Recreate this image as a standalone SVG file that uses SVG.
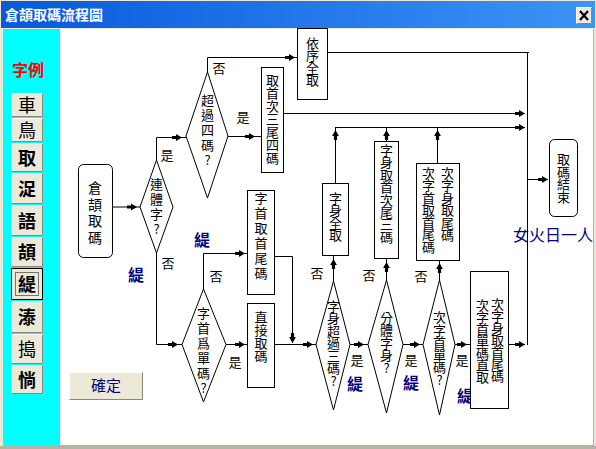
<svg xmlns="http://www.w3.org/2000/svg" width="596" height="449" viewBox="0 0 596 449">
<defs>
<linearGradient id="tb" x1="0" y1="0" x2="1" y2="0">
<stop offset="0" stop-color="#0a58dc"/>
<stop offset="1" stop-color="#3d93f7"/>
</linearGradient>
<marker id="ah" markerUnits="userSpaceOnUse" markerWidth="12" markerHeight="10" viewBox="-11 -5 12 10" refX="0" refY="0" orient="auto">
<path d="M-10,-1.6 H-6 V-3.4 L0,0 L-6,3.4 V1.6 H-10 Z" fill="#000"/>
</marker>
<style>
.t{font-family:"Noto Sans CJK TC","Noto Sans CJK SC",sans-serif;font-size:13px;text-anchor:middle;fill:#000}
.v{font-family:"Noto Sans CJK TC","Noto Sans CJK SC",sans-serif;font-size:13px;fill:#000;writing-mode:vertical-rl;text-orientation:upright;text-anchor:start}
.k{font-family:"Noto Sans CJK TC","Noto Sans CJK SC",sans-serif;font-size:16px;font-weight:bold;text-anchor:middle;fill:#000080}
.b{font-family:"Noto Sans CJK TC","Noto Sans CJK SC",sans-serif;font-size:18px;text-anchor:middle;fill:#000}
.bb{font-weight:bold}
.box{fill:#fff;stroke:#000;stroke-width:1}
.c{fill:none;stroke:#000;stroke-width:1}
.a{marker-end:url(#ah)}
.btn{fill:#ece9d8}
.hl{fill:none;stroke:#fff;stroke-width:1}
.sh{fill:none;stroke:#8a877a;stroke-width:1}
</style>
</defs>

<!-- window frame -->
<rect x="0" y="0" width="596" height="449" fill="#ece9d8"/>
<rect x="1" y="1" width="594" height="27" fill="url(#tb)"/>
<text x="5" y="20" style="font-family:'Noto Sans CJK TC','Noto Sans CJK SC',sans-serif;font-size:14px;font-weight:bold;fill:#fff">倉頡取碼流程圖</text>
<g id="close">
<rect x="576" y="7" width="16" height="17" fill="#ece9d8"/>
<path d="M576.5,23.5 V7.5 H591.5" class="hl"/>
<path d="M576.5,23.5 H591.5 V7.5" class="sh"/>
<path d="M580,11 L588,20 M588,11 L580,20" stroke="#000" stroke-width="2.2"/>
</g>
<rect x="3" y="29" width="591" height="417" fill="#00ffff"/>
<rect x="60" y="29" width="533" height="416" fill="#fff"/>
<rect x="0" y="446" width="596" height="3" fill="#b5b2a6"/>

<!-- left panel -->
<g id="legend">
<text x="28" y="76" style="font-family:'Noto Sans CJK TC','Noto Sans CJK SC',sans-serif;font-size:16px;font-weight:bold;fill:#ff0000;text-anchor:middle">字例</text>
</g>
<g id="btn-1"><rect x="11" y="93" width="32" height="24" class="btn"/><path d="M11.5,116.5 V93.5 H42.5" class="hl"/><path d="M11.5,116.5 H42.5 V93.5" class="sh"/><text x="27" y="112" class="b">車</text></g>
<g id="btn-2"><rect x="11" y="118" width="32" height="24" class="btn"/><path d="M11.5,141.5 V118.5 H42.5" class="hl"/><path d="M11.5,141.5 H42.5 V118.5" class="sh"/><text x="27" y="137" class="b">鳥</text></g>
<g id="btn-3"><rect x="11" y="143" width="32" height="29" class="btn"/><path d="M11.5,171.5 V143.5 H42.5" class="hl"/><path d="M11.5,171.5 H42.5 V143.5" class="sh"/><text x="27" y="165" class="b bb">取</text></g>
<g id="btn-4"><rect x="11" y="173" width="32" height="31" class="btn"/><path d="M11.5,203.5 V173.5 H42.5" class="hl"/><path d="M11.5,203.5 H42.5 V173.5" class="sh"/><text x="27" y="196" class="b bb">浞</text></g>
<g id="btn-5"><rect x="11" y="205" width="32" height="31" class="btn"/><path d="M11.5,235.5 V205.5 H42.5" class="hl"/><path d="M11.5,235.5 H42.5 V205.5" class="sh"/><text x="27" y="228" class="b bb">語</text></g>
<g id="btn-6"><rect x="11" y="237" width="32" height="30" class="btn"/><path d="M11.5,266.5 V237.5 H42.5" class="hl"/><path d="M11.5,266.5 H42.5 V237.5" class="sh"/><text x="27" y="259" class="b bb">頡</text></g>
<g id="btn-7"><rect x="11" y="268" width="32" height="32" class="btn"/><rect x="11.5" y="268.5" width="31" height="31" fill="none" stroke="#000"/><rect x="15.5" y="272.5" width="23" height="23" fill="none" stroke="#000" stroke-dasharray="1,1"/><text x="27" y="291" class="b bb">緹</text></g>
<g id="btn-8"><rect x="11" y="301" width="32" height="32" class="btn"/><path d="M11.5,332.5 V301.5 H42.5" class="hl"/><path d="M11.5,332.5 H42.5 V301.5" class="sh"/><text x="27" y="324" class="b bb">溙</text></g>
<g id="btn-9"><rect x="11" y="334" width="32" height="30" class="btn"/><path d="M11.5,363.5 V334.5 H42.5" class="hl"/><path d="M11.5,363.5 H42.5 V334.5" class="sh"/><text x="27" y="356" class="b">搗</text></g>
<g id="btn-10"><rect x="11" y="365" width="32" height="29" class="btn"/><path d="M11.5,393.5 V365.5 H42.5" class="hl"/><path d="M11.5,393.5 H42.5 V365.5" class="sh"/><text x="27" y="387" class="b bb">惝</text></g>

<g id="ok">
<rect x="69" y="372" width="74" height="28" class="btn"/>
<path d="M69.5,399.5 V372.5 H142.5" class="hl"/>
<path d="M69.5,399.5 H142.5 V372.5" class="sh" stroke="#555"/>
<text x="106" y="391" style="font-family:'Noto Sans CJK TC','Noto Sans CJK SC',sans-serif;font-size:15px;fill:#000080;text-anchor:middle">確定</text>
</g>

<!-- connectors -->
<g id="connectors">
<path class="c a" d="M113,207 H137"/>
<path class="c a" d="M156.5,160 V137.5 H182"/>
<path class="c a" d="M207.5,72 V57.5 H295"/>
<path class="c a" d="M228,136.5 H255"/>
<path class="c a" d="M283,113.5 H525"/>
<path class="c" d="M327,52.5 H529 M527.5,52 V345"/>
<path class="c a" d="M335,127.5 H525"/>
<path class="c a" d="M335.5,183 V130"/>
<path class="c a" d="M386.5,141 V130"/>
<path class="c a" d="M437.5,163 V130"/>
<path class="c a" d="M156.5,253 V344.5 H178"/>
<path class="c a" d="M203.5,289 V253.5 H245"/>
<path class="c a" d="M226,344.5 H245"/>
<path class="c a" d="M275,256.5 H292.5 V343"/>
<path class="c a" d="M275,344.5 H313"/>
<path class="c a" d="M333.5,281 V259"/>
<path class="c a" d="M350,344.5 H364"/>
<path class="c a" d="M386.5,280 V262"/>
<path class="c a" d="M403,344.5 H420"/>
<path class="c a" d="M439.5,280 V263"/>
<path class="c a" d="M455,344.5 H467"/>
<path class="c a" d="M508,344.5 H525"/>
<path class="c a" d="M527,179.5 H548"/>
<path class="c" d="M137,207 H140 M182,137.5 H186 M295,57.5 H297 M255,136.5 H261 M335.5,130 V127 M386.5,130 V127 M437.5,130 V127 M178,344.5 H182 M245,253.5 H247 M245,344.5 H247 M313,344.5 H316 M333.5,259 V255 M364,344.5 H368 M386.5,262 V258 M420,344.5 H423 M439.5,263 V260 M467,344.5 H470"/>
</g>

<!-- labels -->
<g id="labels">
<text class="t" x="167" y="160">是</text>
<text class="t" x="219" y="73">否</text>
<text class="t" x="243" y="122">是</text>
<text class="t" x="168" y="268">否</text>
<text class="t" x="216" y="281">否</text>
<text class="t" x="235" y="367">是</text>
<text class="t" x="317" y="278">否</text>
<text class="t" x="369" y="280">否</text>
<text class="t" x="421" y="281">否</text>
<text class="t" x="357" y="365">是</text>
<text class="t" x="411" y="365">是</text>
<text class="t" x="462" y="365">是</text>
<text class="k" x="136" y="281">緹</text>
<text class="k" x="202" y="246">緹</text>
<text class="k" x="355" y="390">緹</text>
<text class="k" x="411" y="389">緹</text>
<text class="k" x="465" y="402">緹</text>
<text x="513" y="241" style="font-family:'Noto Sans CJK TC','Noto Sans CJK SC',sans-serif;font-size:16px;fill:#000080">女火日一人</text>
</g>

<!-- nodes -->
<g id="start">
<rect x="78.5" y="164.5" width="34" height="93" rx="5" class="box"/>
<text class="v" x="95" y="181" style="font-size:14px;letter-spacing:2.5px">倉頡取碼</text>
</g>
<g id="d-lianti">
<polygon points="156.5,160 173,207 156.5,253 140,207" class="box"/>
<text class="v" x="156.5" y="177.5" style="letter-spacing:2px">連體字?</text>
</g>
<g id="d-over4">
<polygon points="207.5,72 228,136 207.5,198 186,136" class="box"/>
<text class="v" x="207.5" y="93.5" style="letter-spacing:2px">超過四碼?</text>
</g>
<g id="b-q4">
<rect x="261.5" y="67.5" width="22" height="105" class="box"/>
<text class="v" x="272.5" y="73.5">取首次三尾四碼</text>
</g>
<g id="b-all">
<rect x="297.5" y="28.5" width="30" height="71" class="box"/>
<text class="v" x="312.5" y="36.5" style="letter-spacing:-0.5px">依序全取</text>
</g>
<g id="d-head">
<polygon points="203.5,289 226,344.5 203.5,402 182,344.5" class="box"/>
<text class="v" x="203.5" y="306.5" style="letter-spacing:2px">字首爲單碼?</text>
</g>
<g id="b-headfl">
<rect x="247.5" y="190.5" width="27" height="104" class="box"/>
<text class="v" x="261" y="191.5" style="letter-spacing:2px">字首取首尾碼</text>
</g>
<g id="b-direct">
<rect x="247.5" y="303.5" width="27" height="84" class="box"/>
<text class="v" x="261" y="310.5">直接取碼</text>
</g>
<g id="d-body3">
<polygon points="333.5,281 350,344.5 333.5,410 316,344.5" class="box"/>
<text class="v" x="333.5" y="299.5" style="letter-spacing:-0.5px">字身超過三碼?</text>
</g>
<g id="b-bodyall">
<rect x="322.5" y="183.5" width="26" height="72" class="box"/>
<text class="v" x="335.5" y="191.5" style="letter-spacing:-0.5px">字身全取</text>
</g>
<g id="d-split">
<polygon points="386.5,280 403,344.5 386.5,413 368,344.5" class="box"/>
<text class="v" x="386.5" y="311.5" style="letter-spacing:-0.5px">分體字身?</text>
</g>
<g id="b-body3">
<rect x="374.5" y="141.5" width="24" height="117" class="box"/>
<text class="v" x="386.5" y="143.5" style="letter-spacing:-0.6px">字身取首次尾三碼</text>
</g>
<g id="d-next">
<polygon points="439.5,280 455,344.5 439.5,415 423,344.5" class="box"/>
<text class="v" x="439.5" y="310.5" style="letter-spacing:-0.4px">次字首單碼?</text>
</g>
<g id="b-next2">
<rect x="416.5" y="163.5" width="43" height="97" class="box"/>
<text class="v" x="447.5" y="166.5" style="letter-spacing:-0.6px">次字身取尾碼</text>
<text class="v" x="428.5" y="166.5" style="letter-spacing:-0.7px">次字首取首尾碼</text>
</g>
<g id="b-next3">
<rect x="470.5" y="271.5" width="38" height="137" class="box"/>
<text class="v" x="497.5" y="297.5" style="letter-spacing:-1px">次字身取首尾碼</text>
<text class="v" x="482.5" y="298.5" style="letter-spacing:-1px">次字首單碼直取</text>
</g>
<g id="end">
<rect x="549.5" y="139.5" width="28" height="77" rx="5" class="box"/>
<text class="v" x="563.5" y="152.5" style="letter-spacing:-0.3px">取碼結束</text>
</g>
</svg>
